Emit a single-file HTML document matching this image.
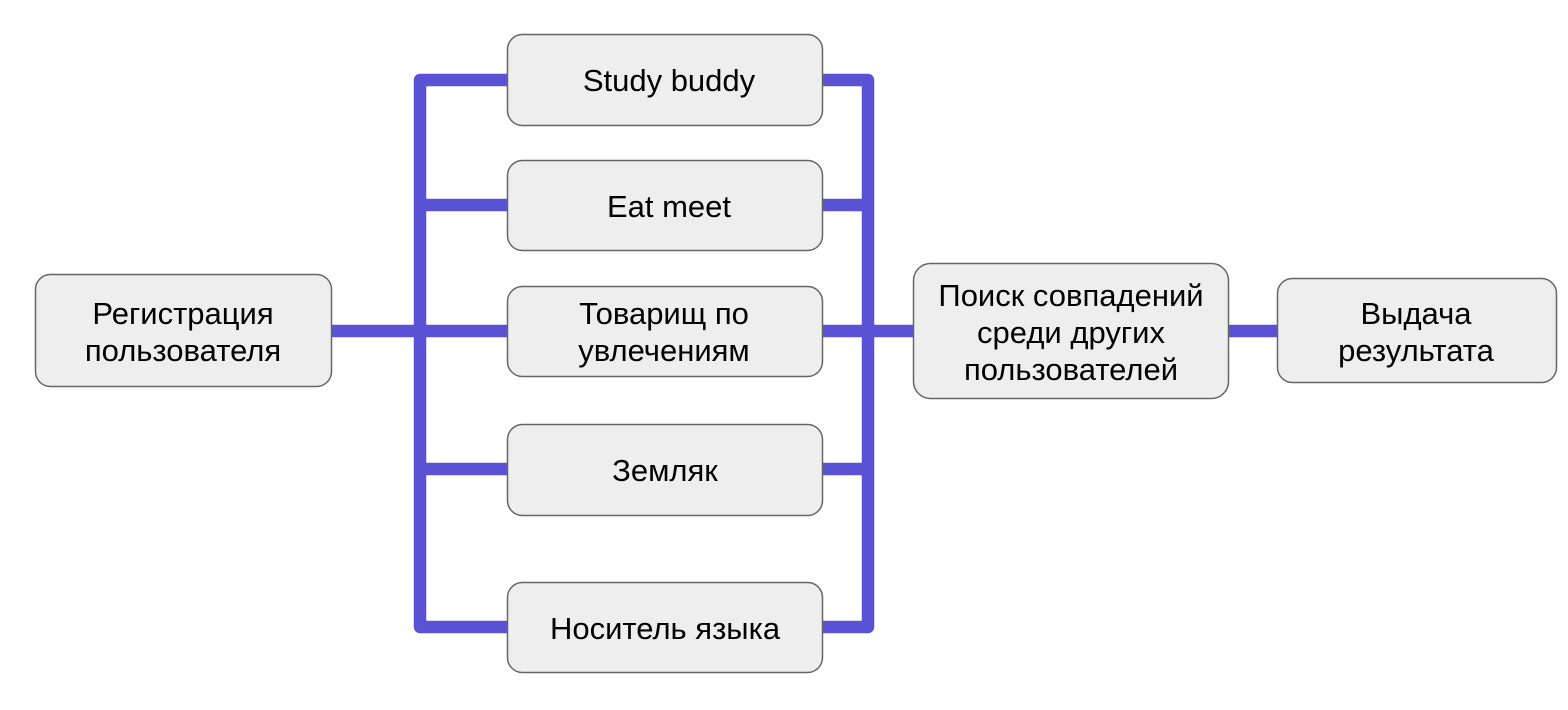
<!DOCTYPE html>
<html><head><meta charset="utf-8"><style>
html,body{margin:0;padding:0;background:#fff;}
svg{display:block}
text{font-family:"Liberation Sans",Arial,sans-serif;font-size:31px;fill:#000;text-anchor:middle}
</style></head><body>
<svg width="1568" height="710" viewBox="0 0 1568 710" xmlns="http://www.w3.org/2000/svg">
<g stroke="#5a52d5" stroke-width="12.5" fill="none" stroke-linejoin="round">
  <line x1="331" y1="331" x2="507" y2="331"/>
  <path d="M507 80 H420 V627 H507"/>
  <line x1="420" y1="205" x2="507" y2="205"/>
  <line x1="420" y1="469" x2="507" y2="469"/>
  <path d="M822 80 H868 V627 H822"/>
  <line x1="822" y1="205" x2="868" y2="205"/>
  <line x1="822" y1="331" x2="913" y2="331"/>
  <line x1="822" y1="469" x2="868" y2="469"/>
  <line x1="1229" y1="331" x2="1278" y2="331"/>
</g>
<g fill="#eeeeee" stroke="#666" stroke-width="1.5">
  <rect x="35.5" y="274.5" width="296" height="112" rx="15"/>
  <rect x="507.5" y="34.5" width="315" height="91" rx="15"/>
  <rect x="507.5" y="160.5" width="315" height="90" rx="15"/>
  <rect x="507.5" y="286.5" width="315" height="90" rx="15"/>
  <rect x="507.5" y="424.5" width="315" height="91" rx="15"/>
  <rect x="507.5" y="582.5" width="315" height="90" rx="15"/>
  <rect x="913.5" y="263.5" width="315" height="135" rx="17"/>
  <rect x="1277.5" y="278.5" width="279" height="104" rx="15"/>
</g>
<text x="183" y="324">Регистрация</text>
<text x="183" y="361">пользователя</text>
<text x="669" y="91">Study buddy</text>
<text x="669" y="217">Eat meet</text>
<text x="664" y="324">Товарищ  по</text>
<text x="664" y="361">увлечениям</text>
<text x="665" y="481">Земляк</text>
<text x="665" y="639">Носитель языка</text>
<text x="1071" y="306">Поиск совпадений</text>
<text x="1071" y="343">среди других</text>
<text x="1071" y="380">пользователей</text>
<text x="1416" y="324">Выдача</text>
<text x="1416" y="361">результата</text>
</svg>
</body></html>
